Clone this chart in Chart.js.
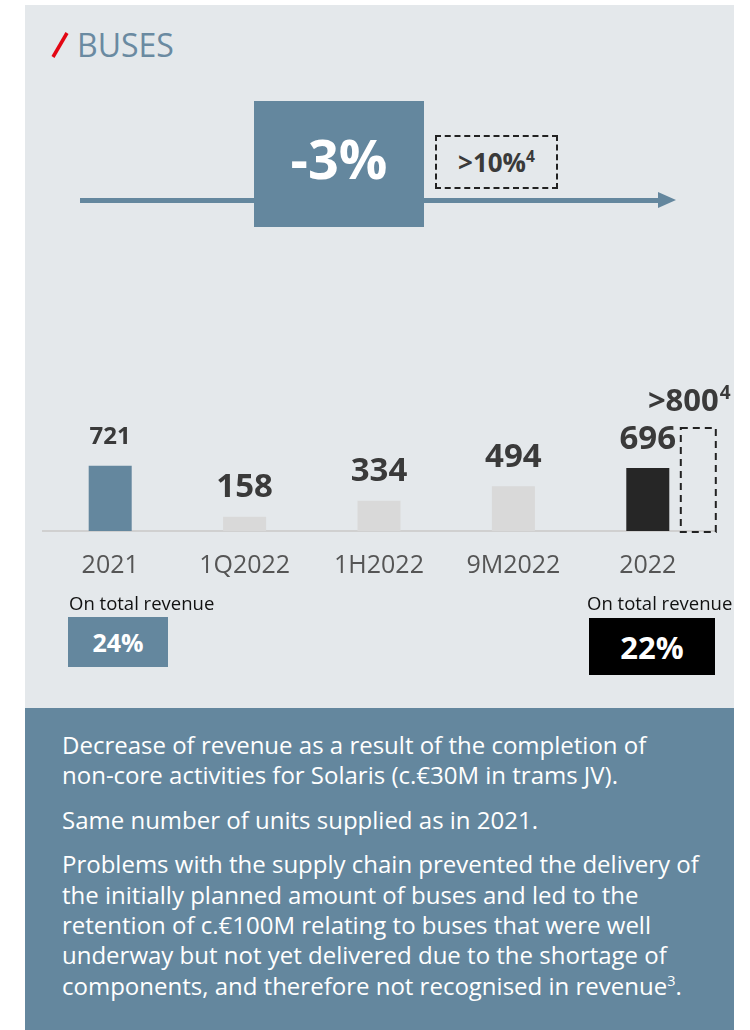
<!DOCTYPE html>
<html>
<head>
<meta charset="utf-8">
<script src="https://cdn.jsdelivr.net/npm/chart.js@4"></script>
<style>
  body { margin: 0; background: #fff; width: 750px; height: 1030px; position: relative; overflow: hidden; font-family: "Open Sans", sans-serif; }
  .abs { position: absolute; }
  #panel { left: 25px; top: 5px; width: 709px; height: 703px; background: #e4e8eb; }
  #notes { left: 25px; top: 708px; width: 709px; height: 322px; background: #64879e; }
  #title { left: 77px; top: 25px; font-size: 32px; color: #6a8aa1; line-height: 40px; }
  #arrowLine { left: 80px; top: 198px; width: 580px; height: 5px; background: #64879e; }
  #arrowHead { left: 658px; top: 192px; width: 0; height: 0; border-top: 8.5px solid transparent; border-bottom: 8.5px solid transparent; border-left: 18px solid #64879e; }
  #bigBox { left: 254px; top: 101px; width: 170px; height: 126px; background: #64879e; color: #fff; font-weight: 700; font-size: 54px; display: flex; align-items: center; justify-content: center; padding-bottom: 12px; box-sizing: border-box; }
  #dashBox { left: 435px; top: 135px; width: 123px; height: 54px; border: 2px dashed #222; box-sizing: border-box; color: #3a3a3a; font-weight: 700; font-size: 26px; display: flex; align-items: center; justify-content: center; }
  sup { font-size: 0.6em; line-height: 0; }
  .cap { font-size: 18.5px; color: #111; }
  .pct { color: #fff; font-weight: 700; display: flex; align-items: center; justify-content: center; }
  #txt { left: 62px; top: 730px; color: #fff; font-size: 24px; line-height: 30.4px; white-space: nowrap; }
  #txt p { margin: 0 0 14px 0; }
</style>
</head>
<body>
<div id="panel" class="abs"></div>
<div id="notes" class="abs"></div>

<svg class="abs" style="left:0;top:0" width="120" height="80">
  <line x1="53" y1="57" x2="67" y2="33" stroke="#e30613" stroke-width="3.5"/>
</svg>
<div id="title" class="abs">BUSES</div>

<div id="arrowLine" class="abs"></div>
<div id="arrowHead" class="abs"></div>
<div id="bigBox" class="abs">-3%</div>
<div id="dashBox" class="abs"><span>&gt;10%<sup>4</sup></span></div>

<canvas id="busChart" class="abs" style="left:0;top:370px" width="750" height="242"></canvas>

<div class="abs cap" style="left:69px;top:590px">On total revenue</div>
<div class="abs pct" style="left:68px;top:617px;width:100px;height:50px;background:#64879e;font-size:25px">24%</div>
<div class="abs cap" style="left:587px;top:590px">On total revenue</div>
<div class="abs pct" style="left:589px;top:618px;width:126px;height:57px;background:#000;font-size:31px">22%</div>

<div id="txt" class="abs">
  <p>Decrease of revenue as a result of the completion of<br>non-core activities for Solaris (c.€30M in trams JV).</p>
  <p>Same number of units supplied as in 2021.</p>
  <p>Problems with the supply chain prevented the delivery of<br>the initially planned amount of buses and led to the<br>retention of c.€100M relating to buses that were well<br>underway but not yet delivered due to the shortage of<br>components, and therefore not recognised in revenue<sup>3</sup>.</p>
</div>

<script>
// --- DATA ---
const periods = ['2021', '1Q2022', '1H2022', '9M2022', '2022'];
const revenue = [721, 158, 334, 494, 696];
// dashed outlook outline next to 2022 (height as drawn on the same scale)
const outlookBox = [null, null, null, null, 1140];
const outlookLabel = '>800';

// --- STYLES ---
const barColors = ['#64879e', '#d9d9d9', '#d9d9d9', '#d9d9d9', '#262626'];
const labelSizes = [24, 33, 33, 33, 33];
const FONT = '"Open Sans"';

const labelPlugin = {
    id: 'busLabels',
    afterDraw(chart) {
        const ctx = chart.ctx;
        const x = chart.scales.x;
        const y = chart.scales.y;
        ctx.save();
        ctx.fillStyle = '#3a3a3a';
        ctx.textAlign = 'center';
        ctx.textBaseline = 'middle';
        revenue.forEach((v, i) => {
            ctx.font = '700 ' + labelSizes[i] + 'px ' + FONT;
            ctx.fillText(String(v), x.getPixelForValue(i), y.getPixelForValue(v) - 29);
        });

        // dashed outlook box
        outlookBox.forEach((v, i) => {
            if (v == null) return;
            const cx = x.getPixelForValue(i);
            const top = y.getPixelForValue(v);
            const bottom = y.getPixelForValue(0) + 1;
            ctx.setLineDash([7, 5]);
            ctx.lineWidth = 2;
            ctx.strokeStyle = '#222';
            ctx.strokeRect(cx + 33, top, 35, bottom - top);
            ctx.setLineDash([]);

            ctx.textAlign = 'right';
            ctx.font = '700 31px ' + FONT;
            ctx.fillText(outlookLabel, cx + 71, top - 26);
            ctx.textAlign = 'left';
            ctx.font = '700 19px ' + FONT;
            ctx.fillText('4', cx + 72, top - 34);
        });
        ctx.restore();
    }
};

new Chart(document.getElementById('busChart'), {
    type: 'bar',
    data: {
        labels: periods,
        datasets: [{
            data: revenue,
            backgroundColor: barColors,
            borderWidth: 0,
            categoryPercentage: 1,
            barPercentage: 0.32
        }]
    },
    options: {
        responsive: false,
        animation: false,
        devicePixelRatio: 1,
        layout: { padding: { left: 43, right: 35, top: 30, bottom: 19 } },
        plugins: { legend: { display: false }, tooltip: { enabled: false } },
        scales: {
            x: {
                grid: { display: false },
                border: { display: true, color: '#d0d0d0', width: 2 },
                ticks: { color: '#555', font: { family: 'Open Sans', size: 25 }, padding: 12 }
            },
            y: { display: false, min: 0, max: 1450 }
        }
    },
    plugins: [labelPlugin]
});
</script>
</body>
</html>
